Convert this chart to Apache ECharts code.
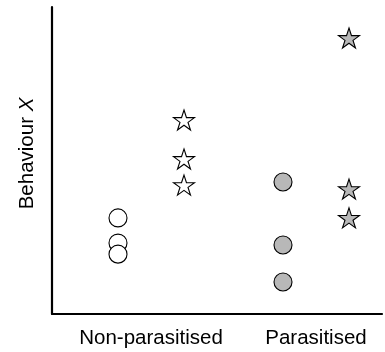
<!DOCTYPE html>
<html>
<head>
<meta charset="utf-8">
<script src="https://cdn.jsdelivr.net/npm/echarts@6/dist/echarts.min.js"></script>
<style>html,body{margin:0;padding:0;background:#fff;}#c{width:385px;height:352px;}</style>
</head>
<body>
<div id="c"></div>
<script>
// Data
const groups = ['Non-parasitised', 'Parasitised'];
const circleValues = [[31.3, 23.1, 19.5], [43.0, 22.5, 10.4]];
const starValues = [[63.2, 50.5, 42.0], [89.9, 40.7, 31.3]];

// Layout helpers (slot positions on a hidden 0-10 value x axis)
const SLOT_WIDTH = 5, FIRST_CENTER = 3, HALF_SPREAD = 1;
const groupFill = ['#ffffff', '#b8b8b8'];
const STAR = 'path://M100,0 L122.45,69.1 L195.1,69.1 L136.33,111.8 L158.8,180.9 L100,138.2 L41.2,180.9 L63.67,111.8 L4.9,69.1 L77.55,69.1 Z';
const FONT = '"Liberation Sans", Arial, sans-serif';

const series = [];
groups.forEach((g, gi) => {
  const center = FIRST_CENTER + SLOT_WIDTH * gi;
  series.push({
    type: 'scatter', name: g + ' circle', symbol: 'circle', symbolSize: 18,
    data: circleValues[gi].map(v => [center - HALF_SPREAD, v]),
    itemStyle: { color: groupFill[gi], borderColor: '#000', borderWidth: 1.1, opacity: 1 },
    emphasis: { disabled: true }
  });
  series.push({
    type: 'scatter', name: g + ' star', symbol: STAR, symbolSize: [21, 20],
    data: starValues[gi].map(v => [center + HALF_SPREAD, v]),
    itemStyle: { color: groupFill[gi], borderColor: '#000', borderWidth: 1.1, opacity: 1 },
    emphasis: { disabled: true }
  });
});

const chart = echarts.init(document.getElementById('c'), null, { renderer: 'canvas' });
chart.setOption({
  animation: false,
  backgroundColor: '#fff',
  grid: { left: 52, right: 0, top: 7, bottom: 38, containLabel: false },
  xAxis: {
    type: 'value', min: 0, max: 10, interval: 1,
    axisLine: { show: true, onZero: false, lineStyle: { color: '#000', width: 2.2 } },
    axisTick: { show: false },
    splitLine: { show: false },
    axisLabel: {
      show: true, margin: 14, color: '#000', fontSize: 20.5, fontFamily: FONT,
      showMinLabel: true, showMaxLabel: true,
      formatter: function (v) {
        const idx = (v - FIRST_CENTER) / SLOT_WIDTH;
        return Number.isInteger(idx) && groups[idx] ? groups[idx] : '';
      }
    }
  },
  yAxis: {
    type: 'value', min: 0, max: 100,
    name: '{n|Behaviour }{i|X}',
    nameLocation: 'middle', nameGap: 14, nameRotate: 90,
    nameTextStyle: {
      padding: [0, 0, 0, 14],
      rich: {
        n: { fontSize: 20.5, fontFamily: FONT, color: '#000' },
        i: { fontSize: 20.5, fontFamily: FONT, color: '#000', fontStyle: 'italic' }
      }
    },
    axisLine: { show: true, onZero: false, lineStyle: { color: '#000', width: 2.2 } },
    axisTick: { show: false },
    axisLabel: { show: false },
    splitLine: { show: false }
  },
  series: series
});
</script>
</body>
</html>
